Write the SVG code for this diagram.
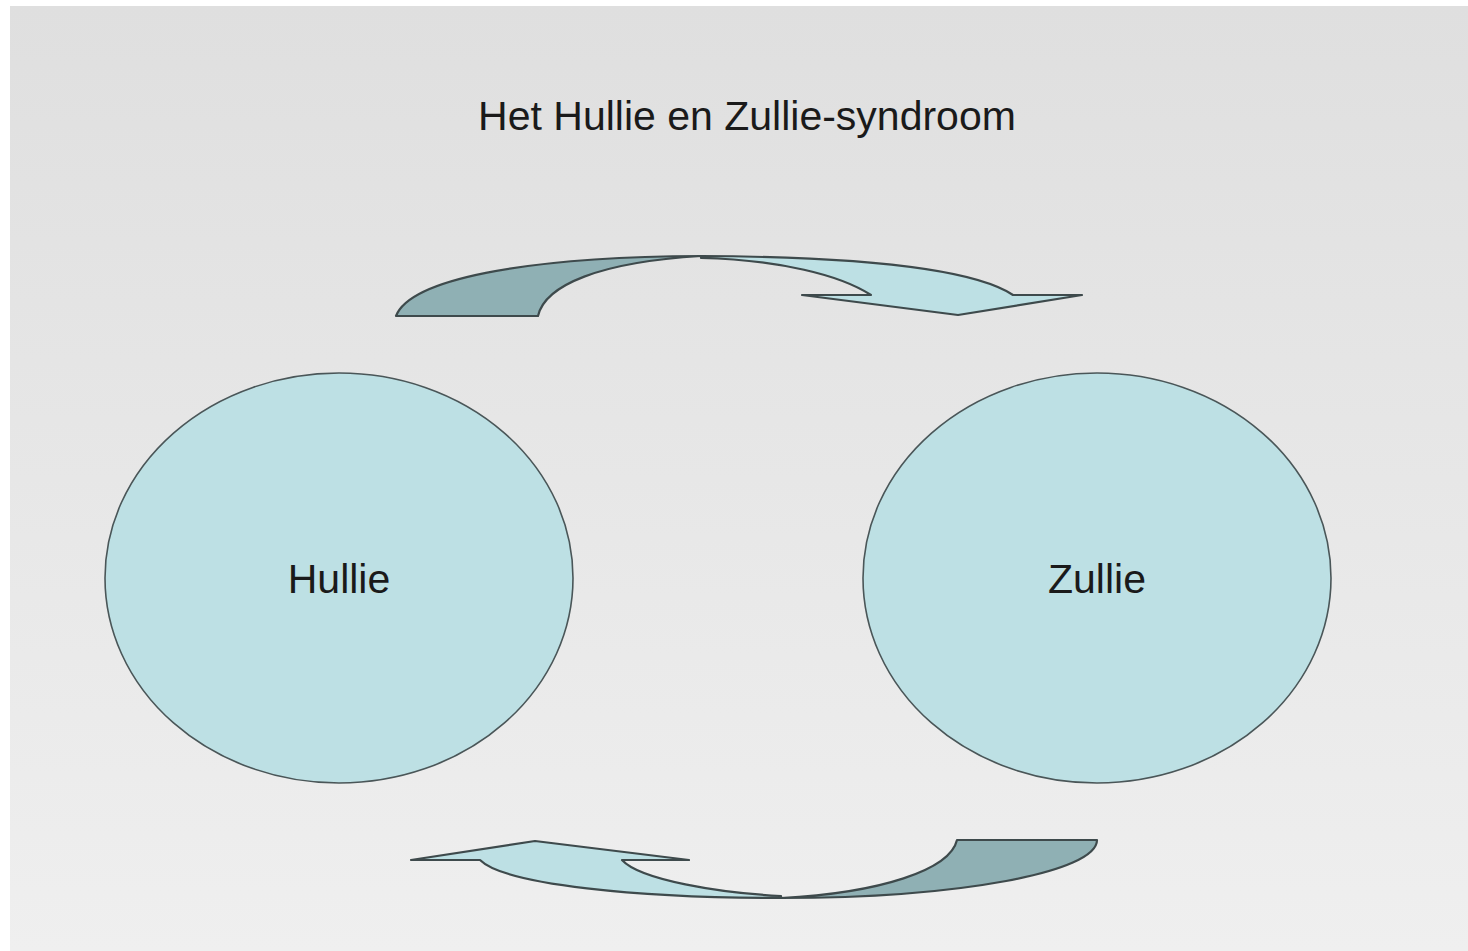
<svg xmlns="http://www.w3.org/2000/svg" width="1468" height="951" viewBox="0 0 1468 951">
<defs>
<linearGradient id="bg" x1="0" y1="0" x2="0" y2="1">
<stop offset="0" stop-color="#dfdfdf"/>
<stop offset="1" stop-color="#efefef"/>
</linearGradient>
<style>
.node{fill:#bde0e4;stroke:#4a5658;stroke-width:1.6}
.lbl{font-family:"Liberation Sans",Arial,sans-serif;font-size:41px;fill:#1a1a1a;text-anchor:middle}
.dark{fill:#8fb0b4;stroke:#3e4a4c;stroke-width:2.2;stroke-linejoin:round}
.light{fill:#bde0e4;stroke:#3e4a4c;stroke-width:2.2;stroke-linejoin:round}
</style>
</defs>
<rect width="1468" height="951" fill="#ffffff"/>
<rect x="10" y="6" width="1458" height="945" fill="url(#bg)"/>
<text class="lbl" x="747" y="130">Het Hullie en Zullie-syndroom</text>
<g id="connectors">
<g id="arrow-top">
<path class="dark" d="M396,316 C410,280 520,257 701,256 C600,262 545,285 538,316 Z"/>
<path class="light" d="M701,256 C870,257 975,270 1013,295 L1082,295 L958,315 L802,295 L871,295 C840,275 780,260 701,258 Z"/>
</g>
<g id="arrow-bottom">
<path class="dark" d="M957,840 L1097,840 C1097,872 960,898 781,898 C880,893 950,870 957,840 Z"/>
<path class="light" d="M781,898 C640,898 505,885 480,860 L411,860 L535,841 L689,860 L622,860 C640,880 720,893 781,896 Z"/>
</g>
</g>
<g id="hullie">
<ellipse class="node" cx="339" cy="578" rx="234" ry="205"/>
<text class="lbl" x="339" y="593">Hullie</text>
</g>
<g id="zullie">
<ellipse class="node" cx="1097" cy="578" rx="234" ry="205"/>
<text class="lbl" x="1097" y="593">Zullie</text>
</g>
</svg>
